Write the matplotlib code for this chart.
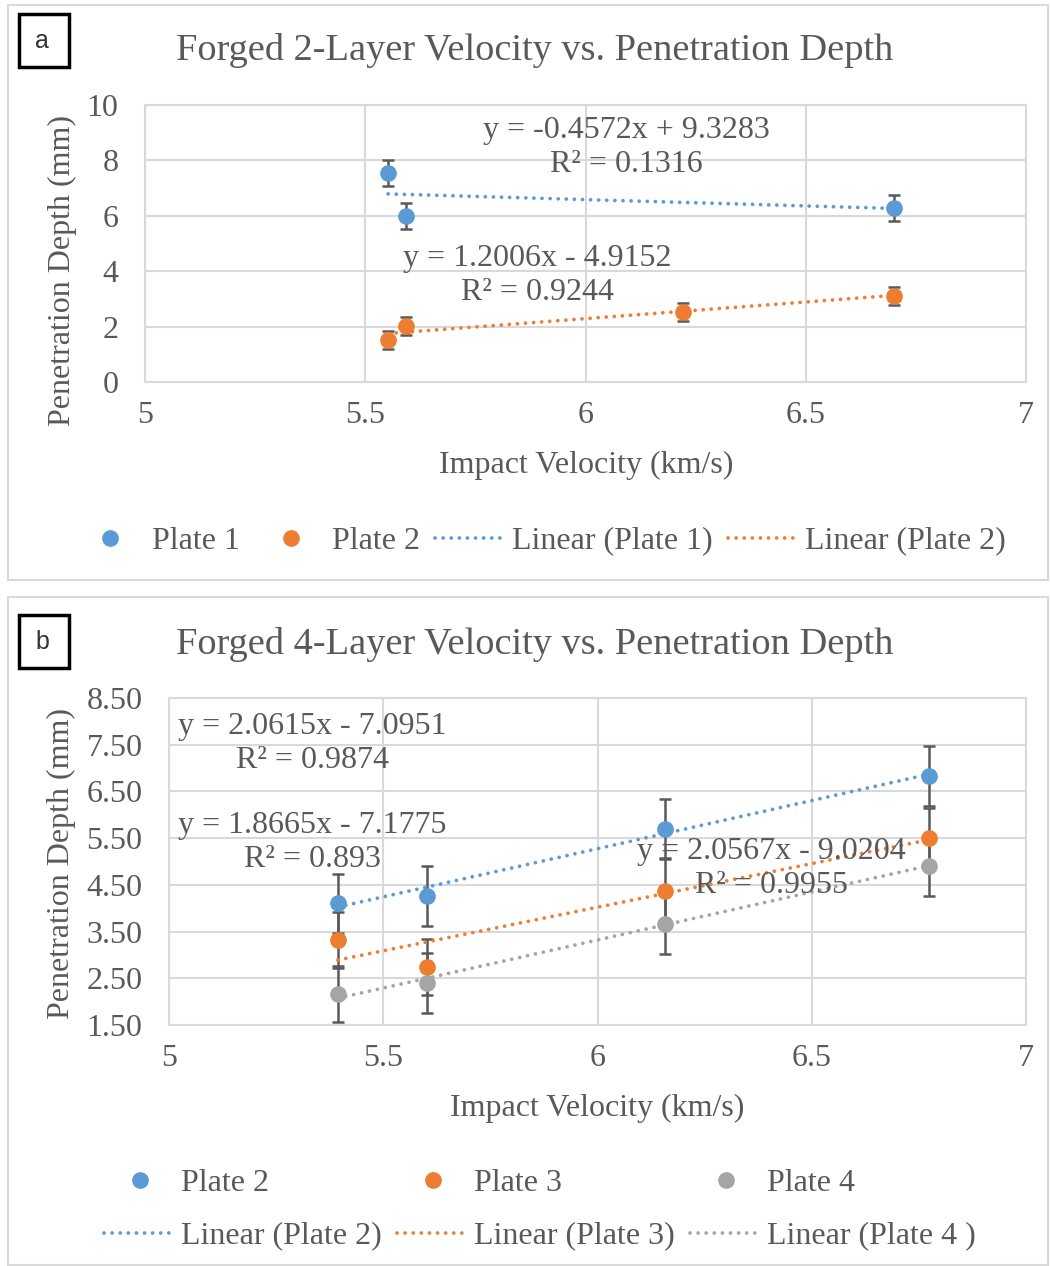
import matplotlib
matplotlib.use("Agg")
import matplotlib.pyplot as plt
from matplotlib.patches import Rectangle
import numpy as np

plt.rcParams['font.family'] = ['Liberation Serif', 'DejaVu Serif']

# panel a data: forged 2-layer
vel_a1 = [5.552, 5.593, 6.70]
pen_a1 = [7.55, 5.99, 6.28]
err_a1 = [0.48, 0.48, 0.46]
vel_a2 = [5.552, 5.593, 6.221, 6.70]
pen_a2 = [1.52, 2.02, 2.53, 3.10]
err_a2 = [0.32, 0.32, 0.32, 0.32]
fit_a1 = (-0.4572, 9.3283)
fit_a2 = (1.2006, -4.9152)
eq_a1 = "y = -0.4572x + 9.3283\nR² = 0.1316"
eq_a2 = "y = 1.2006x - 4.9152\nR² = 0.9244"

# panel b data: forged 4-layer
vel_b = [5.394, 5.602, 6.157, 6.774]
pen_b2 = [4.11, 4.26, 5.70, 6.83]
pen_b3 = [3.32, 2.74, 4.37, 5.50]
pen_b4 = [2.16, 2.40, 3.66, 4.90]
err_b2 = [0.63, 0.64, 0.64, 0.65]
err_b3 = [0.60, 0.60, 0.70, 0.65]
err_b4 = [0.60, 0.64, 0.64, 0.63]
fit_b2 = (2.0615, -7.0951)
fit_b3 = (1.8665, -7.1775)
fit_b4 = (2.0567, -9.0204)
eq_b2 = "y = 2.0615x - 7.0951\nR² = 0.9874"
eq_b3 = "y = 1.8665x - 7.1775\nR² = 0.893"
eq_b4 = "y = 2.0567x - 9.0204\nR² = 0.9955"

BLUE = "#5B9BD5"
ORANGE = "#ED7D31"
GRAY = "#A5A5A5"
TXT = "#595959"
GRID = "#D9D9D9"
FS = 23

fig = plt.figure(figsize=(10.5, 12.66), dpi=100)

# panel frames and letter boxes
for (y0, h) in [(1 - 580 / 1266, 575 / 1266), (1 - 1266 / 1266 + 0.001, 668 / 1266)]:
    fig.patches.append(Rectangle((8 / 1050, y0), 1040 / 1050, h, transform=fig.transFigure,
                                 fill=False, edgecolor=GRID, lw=1.5))
for (lbl, ytop) in [("a", 14), ("b", 615)]:
    fig.patches.append(Rectangle((19 / 1050, 1 - (ytop + 53) / 1266), 50 / 1050, 53 / 1266,
                                 transform=fig.transFigure, fill=False, edgecolor="black", lw=2.5))
    fig.text(42 / 1050, 1 - (ytop + 27) / 1266, lbl, ha="center", va="center",
             family="Liberation Sans", fontsize=18, color="#333333")


def style(ax, xlim, ylim, yticks, yfmt):
    ax.set_xlim(*xlim)
    ax.set_ylim(*ylim)
    ax.set_xticks([5, 5.5, 6, 6.5, 7])
    ax.set_xticklabels(["5", "5.5", "6", "6.5", "7"])
    ax.set_yticks(yticks)
    ax.set_yticklabels([yfmt.format(v) for v in yticks])
    ax.grid(True, color=GRID, lw=1.5)
    ax.set_axisbelow(True)
    for s in ax.spines.values():
        s.set_color(GRID)
        s.set_linewidth(1.5)
    ax.tick_params(length=0, labelsize=FS, colors=TXT)
    ax.tick_params(axis="y", pad=19)
    ax.tick_params(axis="x", pad=14)


def series(ax, x, y, err, fit, color, name):
    ax.errorbar(x, y, yerr=err, fmt="none", ecolor=TXT, elinewidth=1.8, capsize=4.5, capthick=1.8, zorder=2)
    pts, = ax.plot(x, y, "o", color=color, markersize=11, zorder=3, label=name)
    xs = np.array([min(x), max(x)])
    ln, = ax.plot(xs, fit[0] * xs + fit[1], color=color, lw=2.7,
                  linestyle=(0, (0.01, 2.15)), dash_capstyle="round", zorder=2.5,
                  label="Linear (" + name + ")")
    return pts, ln


# ---- panel a ----
ax1 = fig.add_axes([145 / 1050, 1 - 382 / 1266, 881 / 1050, 277 / 1266])
style(ax1, (5, 7), (0, 10), [0, 2, 4, 6, 8, 10], "{:g}")
p1, l1 = series(ax1, vel_a1, pen_a1, err_a1, fit_a1, BLUE, "Plate 1")
p2, l2 = series(ax1, vel_a2, pen_a2, err_a2, fit_a2, ORANGE, "Plate 2")
ax1.text(0.546, 0.847, eq_a1, transform=ax1.transAxes, ha="center", va="center",
         fontsize=FS, color=TXT, linespacing=1.2, zorder=5)
ax1.text(0.445, 0.3845, eq_a2, transform=ax1.transAxes, ha="center", va="center",
         fontsize=FS, color=TXT, linespacing=1.2, zorder=5)
ax1.set_xlabel("Impact Velocity (km/s)", fontsize=FS, color=TXT)
ax1.set_ylabel("Penetration Depth (mm)", fontsize=FS, color=TXT)
ax1.xaxis.set_label_coords(0.5006, -0.30)
ax1.xaxis.label.set_va("center")
ax1.yaxis.set_label_coords(-0.094, 0.404)
ax1.yaxis.label.set_va("center")
fig.text(535 / 1050, 1 - 50 / 1266, "Forged 2-Layer Velocity vs. Penetration Depth",
         ha="center", va="center", fontsize=27.6, color=TXT)
fig.legend([p1, p2, l1, l2], [p1.get_label(), p2.get_label(), l1.get_label(), l2.get_label()],
           ncol=4, loc="center", bbox_to_anchor=(540 / 1050, 1 - 541 / 1266), frameon=False,
           fontsize=FS, handlelength=2.26, handletextpad=0.16, columnspacing=0.47,
           labelcolor=TXT, borderpad=0)

# ---- panel b ----
ax2 = fig.add_axes([169 / 1050, 1 - 1025 / 1266, 857 / 1050, 327 / 1266])
style(ax2, (5, 7), (1.5, 8.5), [1.5, 2.5, 3.5, 4.5, 5.5, 6.5, 7.5, 8.5], "{:.2f}")
q2, m2 = series(ax2, vel_b, pen_b2, err_b2, fit_b2, BLUE, "Plate 2")
q3, m3 = series(ax2, vel_b, pen_b3, err_b3, fit_b3, ORANGE, "Plate 3")
q4, m4 = series(ax2, vel_b, pen_b4, err_b4, fit_b4, GRAY, "Plate 4")
m4.set_label("Linear (Plate 4 )")
ax2.text(0.1669, 0.861, eq_b2, transform=ax2.transAxes, ha="center", va="center",
         fontsize=FS, color=TXT, linespacing=1.2, zorder=5)
ax2.text(0.1669, 0.558, eq_b3, transform=ax2.transAxes, ha="center", va="center",
         fontsize=FS, color=TXT, linespacing=1.2, zorder=5)
ax2.text(0.7025, 0.479, eq_b4, transform=ax2.transAxes, ha="center", va="center",
         fontsize=FS, color=TXT, linespacing=1.2, zorder=5)
ax2.set_xlabel("Impact Velocity (km/s)", fontsize=FS, color=TXT)
ax2.set_ylabel("Penetration Depth (mm)", fontsize=FS, color=TXT)
ax2.xaxis.set_label_coords(0.4995, -0.254)
ax2.xaxis.label.set_va("center")
ax2.yaxis.set_label_coords(-0.125, 0.495)
ax2.yaxis.label.set_va("center")
fig.text(535 / 1050, 1 - 644 / 1266, "Forged 4-Layer Velocity vs. Penetration Depth",
         ha="center", va="center", fontsize=27.6, color=TXT)
hb = [q2, m2, q3, m3, q4, m4]
fig.legend(hb, [h.get_label() for h in hb],
           ncol=3, loc="center", bbox_to_anchor=(540 / 1050, 1 - 1209.5 / 1266), frameon=False,
           fontsize=FS, handlelength=2.26, handletextpad=0.16, columnspacing=0.47,
           labelspacing=0.74, labelcolor=TXT, borderpad=0)

fig.savefig("out.png", dpi=100)
